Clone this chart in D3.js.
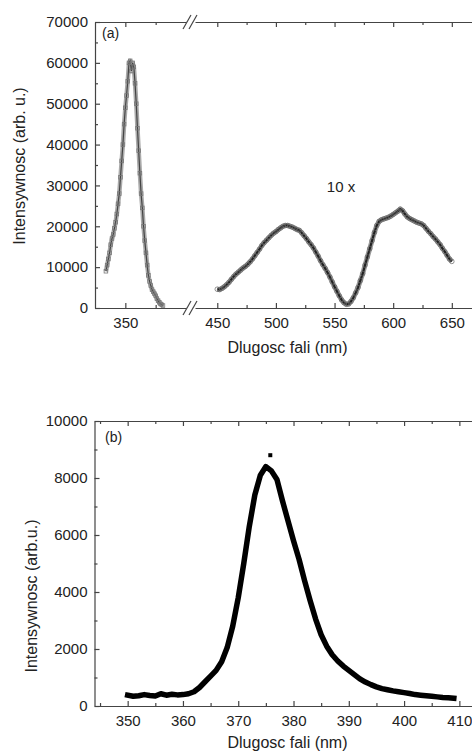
<!DOCTYPE html>
<html>
<head>
<meta charset="utf-8">
<script src="https://cdn.jsdelivr.net/npm/d3@7"></script>
<style>
	body { margin: 0; background: #fff; }
	text { font-family: "Liberation Sans", Arial, sans-serif; fill: #222; }
</style>
</head>
<body>
<div id="container"></div>
<script>
// panel (a): UV peak, nm / intensity
var uvWave = [334,335,336,337,338,339,340,341,342,343,344,345,346,347,348,349,350,351,352,353,354,355,356,357,358,359,360,361,362,363,364,365,366,367,368,369,370,371,372,373,374,375,376,377,378,379,380,381];
var uvInt = [9000,10500,12000,13500,15500,17000,18000,19500,21000,23000,25500,28000,32000,36000,40000,45000,49000,52000,55500,60000,60500,58000,60000,59000,55000,50000,44000,38500,33000,28000,24500,20000,16500,13500,10500,8000,6500,5500,4500,4000,3500,3000,2300,1800,1400,1000,800,600];

// panel (a): visible band (shown 10 x)
var visWave = [450,452,454,456,458,460,462,464,466,468,470,472,474,476,478,480,482,484,486,488,490,492,494,496,498,500,502,504,506,508,510,512,514,516,518,520,522,524,526,528,530,532,534,536,538,540,542,544,546,548,550,552,554,556,558,560,562,564,566,568,570,572,574,576,578,580,582,584,586,588,590,592,594,596,598,600,602,604,606,608,610,612,614,616,618,620,622,624,626,628,630,632,634,636,638,640,642,644,646,648,650];
var visInt = [4600,4500,4800,5200,5700,6300,7000,7700,8300,8800,9300,9800,10200,10700,11300,12000,12800,13600,14400,15300,16000,16600,17200,17800,18300,18700,19200,19600,20000,20200,20200,20000,19800,19500,19200,19000,18400,17700,17000,16200,15500,14700,13700,12700,11600,10600,9700,8700,7600,6400,5200,4100,3000,2000,1300,900,1000,1600,2500,3700,5000,6700,8400,10500,12500,14500,16500,18500,20200,21200,21600,21800,22000,22200,22500,22900,23300,23700,24200,23800,23000,22300,21900,21600,21300,21000,20800,20600,20200,19500,18800,18200,17500,16900,16200,15500,14600,13800,12900,12000,11400];

// panel (b)
var bWave = [350,351,352,353,354,355,356,357,358,359,360,361,362,363,364,365,366,367,368,369,370,371,372,373,374,375,376,377,378,379,380,381,382,383,384,385,386,387,388,389,390,391,392,393,394,395,396,397,398,399,400,401,402,403,404,405,406,407,408,409];
var bInt = [380,340,360,400,370,350,430,380,410,390,400,430,500,650,850,1050,1250,1550,2050,2800,3800,5000,6300,7400,8100,8400,8250,7950,7200,6500,5800,5150,4400,3700,3050,2500,2100,1800,1580,1400,1250,1100,950,840,750,670,610,570,530,500,470,440,400,380,360,340,320,300,290,270];
var bSpike = [[375.8, 8800]];

// ticks
var aLeftTicks = [350], aLeftMinor = [375];
var aRightTicks = [450,500,550,600,650], aRightMinor = [475,525,575,625,675];
var aYTicks = [0,10000,20000,30000,40000,50000,60000,70000];
var aYMinor = [5000,15000,25000,35000,45000,55000,65000];
var bXTicks = [350,360,370,380,390,400,410], bXMinor = [345,355,365,375,385,395,405,415];
var bYTicks = [0,2000,4000,6000,8000,10000], bYMinor = [1000,3000,5000,7000,9000];

var W = 472, H = 753;
var svg = d3.select("#container").append("svg").attr("width", W).attr("height", H);

var axisColor = "#444";
var fmt = d3.format("d");

function styleAxis(g, fontSize)
{
	g.attr("font-family", null).attr("font-size", null);
	g.selectAll("path.domain").attr("stroke", axisColor).attr("stroke-width", 1.2);
	g.selectAll(".tick line").attr("stroke", axisColor).attr("stroke-width", 1.2);
	g.selectAll(".tick text").style("font-size", fontSize + "px").attr("fill", "#222");
}

// draws an axis, inward ticks, with labels and minor ticks
function drawAxis(maker, scale, y0, x0, major, minor, labels)
{
	var g = svg.append("g").attr("transform", "translate(" + x0 + "," + y0 + ")");
	var ax = maker(scale).tickValues(major).tickSizeInner(-5).tickSizeOuter(0);
	if (labels) ax.tickPadding(labels).tickFormat(fmt); else ax.tickFormat("");
	g.call(ax);
	styleAxis(g, 15);
	var gm = svg.append("g").attr("transform", "translate(" + x0 + "," + y0 + ")");
	gm.call(maker(scale).tickValues(minor).tickSizeInner(-3).tickSizeOuter(0).tickFormat(""));
	styleAxis(gm, 15);
	gm.select("path.domain").remove();
	return g;
}

// ---------- panel (a) ----------
var aTop = 22, aBottom = 308, aLeft = 95, breakL = 186, breakR = 195, aRight = 487;
var xL = d3.scaleLinear().domain([325, 400]).range([aLeft, breakL]);
var xR = d3.scaleLinear().domain([431, 680]).range([breakR, aRight]);
var yA = d3.scaleLinear().domain([0, 70000]).range([aBottom, aTop]);

drawAxis(d3.axisBottom, xL, aBottom, 0, aLeftTicks, aLeftMinor, 9.4);
drawAxis(d3.axisBottom, xR, aBottom, 0, aRightTicks, aRightMinor, 9.4);
drawAxis(d3.axisTop, xL, aTop, 0, aLeftTicks, aLeftMinor, 0);
drawAxis(d3.axisTop, xR, aTop, 0, aRightTicks, aRightMinor, 0);
drawAxis(d3.axisLeft, yA, 0, aLeft, aYTicks, aYMinor, 7);
drawAxis(d3.axisRight, yA, 0, aRight, aYTicks, aYMinor, 0);

// axis break marks
[aBottom, aTop].forEach(function(yy)
{
	[0, 6].forEach(function(dx)
	{
		svg.append("line")
			.attr("x1", 183 + dx).attr("y1", yy + 7)
			.attr("x2", 191 + dx).attr("y2", yy - 7)
			.attr("stroke", axisColor).attr("stroke-width", 1.2);
	});
});

var uvData = uvWave.map(function(w, i) { return [w, uvInt[i]]; });
var visData = visWave.map(function(w, i) { return [w, visInt[i]]; });

var lineL = d3.line().x(function(d) { return xL(d[0]); }).y(function(d) { return yA(d[1]); });
var lineR = d3.line().x(function(d) { return xR(d[0]); }).y(function(d) { return yA(d[1]); });

svg.append("path").datum(uvData).attr("d", lineL)
	.attr("fill", "none").attr("stroke", "#aaa").attr("stroke-width", 4.5).attr("stroke-linejoin", "round");
svg.append("path").datum(uvData).attr("d", lineL)
	.attr("fill", "none").attr("stroke", "#444").attr("stroke-width", 1.2);
svg.selectAll(".uvpt").data(uvData).enter().append("rect")
	.attr("x", function(d) { return xL(d[0]) - 1.8; })
	.attr("y", function(d) { return yA(d[1]) - 1.8; })
	.attr("width", 3.6).attr("height", 3.6)
	.attr("fill", "none").attr("stroke", "#777").attr("stroke-width", 0.8);

svg.append("path").datum(visData).attr("d", lineR)
	.attr("fill", "none").attr("stroke", "#999").attr("stroke-width", 5).attr("stroke-linejoin", "round");
svg.append("path").datum(visData).attr("d", lineR)
	.attr("fill", "none").attr("stroke", "#222").attr("stroke-width", 2.2).attr("stroke-linejoin", "round");
svg.selectAll(".vispt").data(visData).enter().append("circle")
	.attr("cx", function(d) { return xR(d[0]); })
	.attr("cy", function(d) { return yA(d[1]); })
	.attr("r", 2.3)
	.attr("fill", "none").attr("stroke", "#666").attr("stroke-width", 0.7);

svg.append("text").attr("x", 102).attr("y", 38).style("font-size", "14px").text("(a)");
svg.append("text").attr("x", 341).attr("y", 192).attr("text-anchor", "middle").style("font-size", "15px").text("10 x");
svg.append("text").attr("x", 287.5).attr("y", 353).attr("text-anchor", "middle").style("font-size", "16px").text("Dlugosc fali (nm)");
svg.append("text").attr("transform", "translate(25,166) rotate(-90)").attr("text-anchor", "middle")
	.style("font-size", "16px").text("Intensywnosc (arb. u.)");

// ---------- panel (b) ----------
var bTop = 421, bBottom = 706, bLeft = 94.5, bRight = 487;
var xB = d3.scaleLinear().domain([344, 415]).range([bLeft, bRight]);
var yB = d3.scaleLinear().domain([0, 10000]).range([bBottom, bTop]);

drawAxis(d3.axisBottom, xB, bBottom, 0, bXTicks, bXMinor, 9.4);
drawAxis(d3.axisTop, xB, bTop, 0, bXTicks, bXMinor, 0);
drawAxis(d3.axisLeft, yB, 0, bLeft, bYTicks, bYMinor, 7);
drawAxis(d3.axisRight, yB, 0, bRight, bYTicks, bYMinor, 0);

var bData = bWave.map(function(w, i) { return [w, bInt[i]]; });
var lineB = d3.line().x(function(d) { return xB(d[0]); }).y(function(d) { return yB(d[1]); });
svg.append("path").datum(bData).attr("d", lineB)
	.attr("fill", "none").attr("stroke", "#000").attr("stroke-width", 5.5)
	.attr("stroke-linejoin", "round").attr("stroke-linecap", "square");
svg.selectAll(".spike").data(bSpike).enter().append("rect")
	.attr("x", function(d) { return xB(d[0]) - 2; })
	.attr("y", function(d) { return yB(d[1]) - 2; })
	.attr("width", 4).attr("height", 4).attr("fill", "#000");

svg.append("text").attr("x", 105).attr("y", 442).style("font-size", "14px").text("(b)");
svg.append("text").attr("x", 287.5).attr("y", 748).attr("text-anchor", "middle").style("font-size", "16px").text("Dlugosc fali (nm)");
svg.append("text").attr("transform", "translate(37,596) rotate(-90)").attr("text-anchor", "middle")
	.style("font-size", "16px").text("Intensywnosc (arb.u.)");
</script>
</body>
</html>
